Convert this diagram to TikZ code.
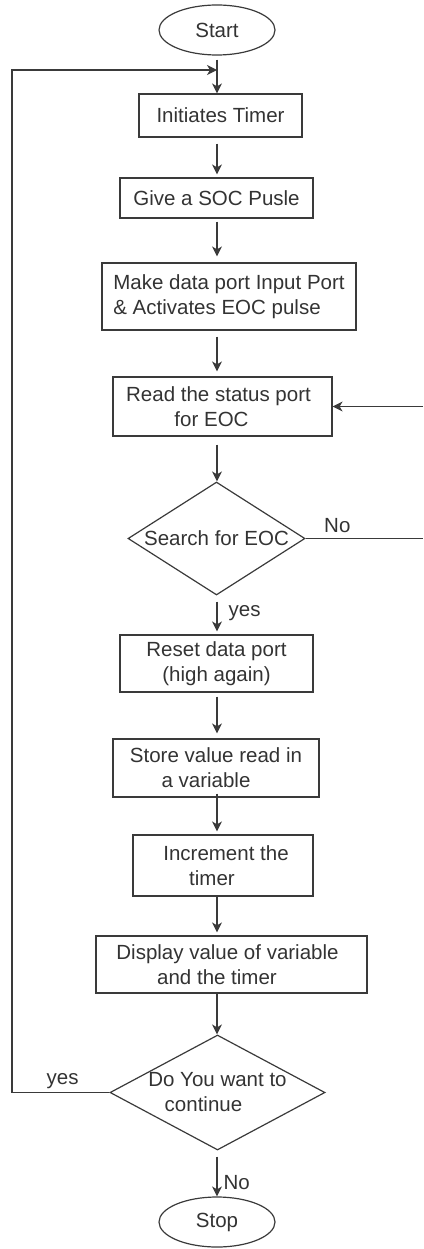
\documentclass[tikz,border=0pt]{standalone}
\usepackage{fontspec}
\setmainfont{Liberation Sans}
\usetikzlibrary{shapes.geometric,arrows.meta}
\definecolor{ink}{HTML}{3A3A3A}
\definecolor{txt}{HTML}{333333}
% horizontal nudge used to offset a line of text inside a centred block
\newcommand{\lsh}[1]{\hspace*{#1}}

\begin{document}
\begin{tikzpicture}[x=1pt,y=-1pt,
  every node/.style={font=\fontsize{20.5}{25}\selectfont, text=txt},
  flowbox/.style={draw=ink, line width=1.2pt, rectangle, inner sep=0pt, align=center},
  terminal/.style={draw=ink, line width=1.2pt, ellipse, inner sep=0pt,
                   minimum width=116pt, minimum height=50pt},
  decision/.style={draw=ink, line width=1.2pt, diamond, inner sep=0pt},
  flow/.style={draw=ink, line width=1.2pt, -{Stealth[length=10pt,width=10pt,inset=3pt]}},
  plain/.style={draw=ink, line width=1.2pt},
  tag/.style={inner sep=1pt}
]
\useasboundingbox (0,0) rectangle (423,1249);

% process steps
\node[terminal] (start) at (217,30) {Start};
\node[flowbox, minimum width=163pt, minimum height=43pt] (timer) at (220.5,115.5) {Initiates Timer};
\node[flowbox, minimum width=193pt, minimum height=40pt] (soc) at (216.5,198) {Give a SOC Pusle};
\node[flowbox, align=left, minimum width=254pt, minimum height=67pt] (port) at (229,296.5)
  {Make data port Input Port\\\& Activates EOC pulse};
\node[flowbox, minimum width=219pt, minimum height=59pt] (status) at (222.5,406.5)
  {Read the status port\lsh{8pt}\\for EOC\lsh{22pt}};
\node[decision, minimum width=177pt, minimum height=113pt,
      label={center:Search for EOC}] (search) at (216.5,538.5) {};
\node[flowbox, minimum width=193pt, minimum height=57pt] (reset) at (216.5,663.5)
  {Reset data port\\(high again)};
\node[flowbox, minimum width=206pt, minimum height=58pt] (store) at (216,768)
  {Store value read in\\a variable\lsh{20pt}};
\node[flowbox, minimum width=180pt, minimum height=61pt] (incr) at (223,865.5)
  {\lsh{6pt}Increment the\\timer\lsh{22pt}};
\node[flowbox, minimum width=271pt, minimum height=57pt] (show) at (231.5,964.5)
  {Display value of variable\lsh{8pt}\\and the timer\lsh{29pt}};
\node[decision, minimum width=215pt, minimum height=115pt,
      label={[align=center]center:Do You want to\\continue\lsh{28pt}}] (again) at (217.5,1092.5) {};
\node[terminal] (stop) at (217,1222) {Stop};

% loose ends of the side connectors
\coordinate (loopx) at (12,0);
\coordinate (entry) at (217,70);
\coordinate (noEnd) at (423,538.5);
\coordinate (backIn) at (423,406.5);

% main flow
\draw[flow, shorten <=4pt] (start.south) -- (timer.north -| start);
\draw[flow, shorten <=6pt, shorten >=3pt] (timer.south -| start) -- (soc.north -| start);
\draw[flow, shorten <=3pt, shorten >=6pt] (soc.south -| start) -- (port.north -| start);
\draw[flow, shorten <=6pt, shorten >=5pt] (port.south -| start) -- (status.north -| start);
\draw[flow, shorten <=8pt] (status.south -| start) -- (search.north -| start);
\draw[flow, shorten <=6pt, shorten >=3pt] (search.south -| start) --
  node[tag, right=10pt, pos=.44] {yes} (reset.north -| start);
\draw[flow, shorten <=4pt, shorten >=5pt] (reset.south -| start) -- (store.north -| start);
\draw[flow, shorten <=-4pt, shorten >=3pt] (store.south -| start) -- (incr.north -| start);
\draw[flow, shorten >=3pt] (incr.south -| start) -- (show.north -| start);
\draw[flow] (show.south -| start) -- (again.north -| start);
\draw[flow, shorten <=6pt] (again.south -| start) --
  node[tag, right=5pt, pos=.69] {No} (stop.north);

% status polling branch
\draw[plain] (search.east) -- node[tag, above=4pt, pos=.27] {No} (noEnd);
\draw[flow] (backIn) -- (status.east);

% repeat loop
\draw[flow] (again.west) -- node[tag, above=2pt, pos=.48] {yes} (again.west -| loopx) |- (entry);
\end{tikzpicture}
\end{document}
